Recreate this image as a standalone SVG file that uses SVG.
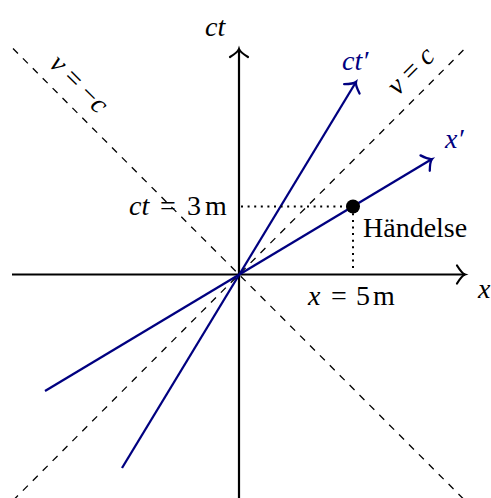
<svg xmlns="http://www.w3.org/2000/svg" width="491" height="498" viewBox="0 0 491 498">
<style>
.t{font-family:"Liberation Serif","Times New Roman",serif;font-size:28px;fill:#000}
.i{font-style:italic}
.b{fill:#000080}
.axis{stroke:#000;stroke-width:2.2;fill:none}
.blue{stroke:#000080;stroke-width:2.3;fill:none}
.dash{stroke:#000;stroke-width:1.3;stroke-dasharray:7 7;fill:none}
.dot{stroke:#000;stroke-width:2;stroke-dasharray:2 4.6;fill:none}
</style>
<defs>
<marker id="ak" viewBox="-12 -12 16 24" markerWidth="16" markerHeight="24" refX="0" refY="0" orient="auto" markerUnits="userSpaceOnUse">
<path d="M-8,-9 Q-3,-1 0,0 Q-3,1 -8,9" fill="none" stroke="#000" stroke-width="2.2" stroke-linecap="round"/>
</marker>
<marker id="ab" viewBox="-12 -12 16 24" markerWidth="16" markerHeight="24" refX="0" refY="0" orient="auto" markerUnits="userSpaceOnUse">
<path d="M-8,-9 Q-3,-1 0,0 Q-3,1 -8,9" fill="none" stroke="#000080" stroke-width="2.3" stroke-linecap="round"/>
</marker>
</defs>
<rect width="491" height="498" fill="#fff"/>
<g id="connectors">
<line class="dash" x1="13" y1="500.5" x2="465" y2="48.5"/>
<line class="dash" x1="13" y1="48.5" x2="465" y2="500.5"/>
<line class="axis" x1="12" y1="274.5" x2="465" y2="274.5" marker-end="url(#ak)"/>
<line class="axis" x1="239" y1="498" x2="239" y2="49" marker-end="url(#ak)"/>
<line class="blue" x1="45" y1="391" x2="432" y2="159" marker-end="url(#ab)"/>
<line class="blue" x1="122" y1="468" x2="356" y2="82" marker-end="url(#ab)"/>
<polyline class="dot" points="241,206.5 353,206.5 353,272"/>
</g>
<g id="axis-labels">
<text class="t i" x="205" y="36">ct</text>
<text class="t i" x="478" y="298">x</text>
<text class="t i b" x="342" y="70">ct′</text>
<text class="t i b" x="445" y="148">x′</text>
</g>
<g id="lightcone-labels">
<text class="t" text-anchor="middle" transform="translate(410,70) rotate(-45)" y="10"><tspan class="i">v</tspan> = <tspan class="i">c</tspan></text>
<text class="t" text-anchor="middle" transform="translate(80,83) rotate(45)" y="10"><tspan class="i">v</tspan> = −<tspan class="i">c</tspan></text>
</g>
<g id="event">
<circle cx="353" cy="206.5" r="7" fill="#000"/>
<text class="t" x="363" y="237">Händelse</text>
</g>
<g id="coord-labels">
<text class="t" y="215"><tspan class="i" x="129">ct</tspan><tspan x="160">=</tspan><tspan x="187">3</tspan><tspan x="205">m</tspan></text>
<text class="t" y="305"><tspan class="i" x="308">x</tspan><tspan x="331">=</tspan><tspan x="356">5</tspan><tspan x="373">m</tspan></text>
</g>
</svg>
